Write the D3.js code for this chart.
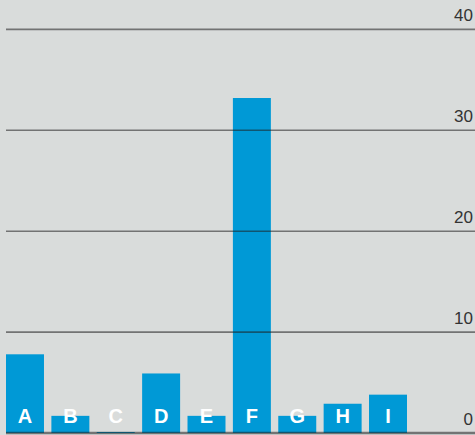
<!DOCTYPE html>
<html>
<head>
<meta charset="utf-8">
<script src="https://cdn.jsdelivr.net/npm/d3@7"></script>
<style>
  html, body { margin: 0; padding: 0; background: #d9dcdb; }
  svg { display: block; }
</style>
</head>
<body>
<div id="container"></div>
<script>
const width = 475,
  height = 435;

// data
const categories = ["A", "B", "C", "D", "E", "F", "G", "H", "I"];
const values = [7.8, 1.7, 0.1, 5.9, 1.7, 33.2, 1.7, 2.9, 3.8];
const ticks = [0, 10, 20, 30, 40];

const svg = d3.select("#container").append("svg")
  .attr("width", width)
  .attr("height", height)

svg.append("rect")
  .attr("width", width)
  .attr("height", height)
  .attr("fill", "#d9dcdb")

/* SCALES */
const xScale = d3.scaleBand()
  .domain(categories)
  .range([6, 407])
  .paddingInner(0.163)
  .paddingOuter(0)

const yScale = d3.scaleLinear()
  .domain([0, 40])
  .range([433, 29.4])

// bars
svg.selectAll("rect.bar")
  .data(categories)
  .join("rect")
  .attr("class", "bar")
  .attr("x", d => xScale(d))
  .attr("y", (d, i) => yScale(values[i]))
  .attr("width", xScale.bandwidth())
  .attr("height", (d, i) => yScale(0) - yScale(values[i]))
  .attr("fill", "#0099d6")

// gridlines on top of the bars, see-through
svg.selectAll("line.grid")
  .data(ticks)
  .join("line")
  .attr("class", "grid")
  .attr("x1", 6)
  .attr("x2", width)
  .attr("y1", d => yScale(d))
  .attr("y2", d => yScale(d))
  .attr("stroke", "#1e1e1e")
  .attr("stroke-opacity", 0.55)
  .attr("stroke-width", d => d === 0 ? 2.5 : 1.6)

// tick labels on the right
svg.selectAll("text.tick")
  .data(ticks)
  .join("text")
  .attr("class", "tick")
  .attr("x", 473)
  .attr("y", d => yScale(d) - 8.5)
  .attr("text-anchor", "end")
  .style("font-family", "'Liberation Sans', Arial, sans-serif")
  .style("font-size", "17px")
  .attr("fill", "#333")
  .text(d => d)

// category labels
svg.selectAll("text.cat")
  .data(categories)
  .join("text")
  .attr("class", "cat")
  .attr("x", d => xScale(d) + xScale.bandwidth() / 2)
  .attr("y", 422.7)
  .attr("text-anchor", "middle")
  .style("font-family", "'Liberation Sans', Arial, sans-serif")
  .style("font-weight", "bold")
  .style("font-size", "20px")
  .attr("fill", "#fff")
  .text(d => d)
</script>
</body>
</html>
